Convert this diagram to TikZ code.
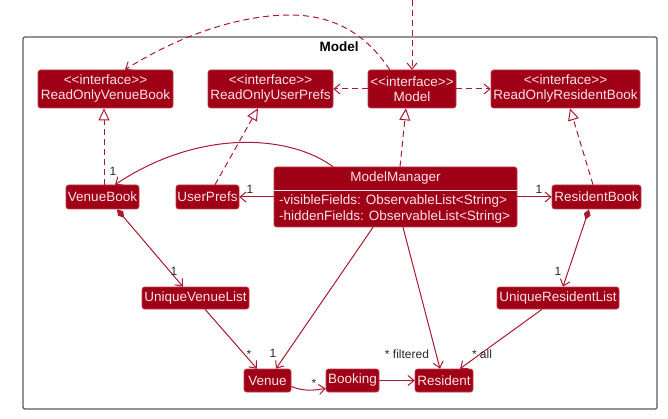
\documentclass[tikz,border=0pt]{standalone}
\usepackage{fontspec}
\setmainfont{Liberation Sans}[Ligatures=TeXOff]
\usetikzlibrary{arrows.meta,calc}
\definecolor{cf}{RGB}{160,0,22}
\definecolor{cb}{RGB}{190,60,80}
\definecolor{ct}{RGB}{250,228,232}
\definecolor{lc}{RGB}{170,25,50}
\definecolor{lt}{RGB}{40,40,40}
\definecolor{fc}{RGB}{90,90,90}
\begin{document}
\begin{tikzpicture}[x=1pt,y=-1pt,
  cls/.style={draw=cb, fill=cf, text=ct, rounded corners=2.5pt, inner sep=0pt,
    font=\fontsize{13.5}{15}\selectfont, align=center, line width=0.6pt},
  lbl/.style={text=lt, font=\fontsize{12}{14}\selectfont, inner sep=0pt},
  assoc/.style={draw=lc, line width=1pt, -{Straight Barb[length=6pt,width=10pt]}},
  dep/.style={assoc, dash pattern=on 6pt off 4pt},
  real/.style={draw=lc, line width=1pt, dash pattern=on 6pt off 4pt,
    -{Triangle[open,length=12pt,width=11pt,fill=white]}},
  comp/.style={draw=lc, line width=1pt,
    {Diamond[length=11pt,width=7pt]}-{Straight Barb[length=6pt,width=10pt]}},
]
\useasboundingbox (0,0) rectangle (668,419);
\fill[white] (0,0) rectangle (668,419);
% package frame
\draw[draw=fc, line width=1.2pt, rounded corners=2pt] (23,37) rectangle (657,409);
\node[font=\bfseries\fontsize{13.5}{15}\selectfont, inner sep=0pt] (title) at (339,47) {Model};

% interfaces
\node[cls, minimum width=135pt, minimum height=38pt] (rvb) at (105.5,89) {<<interface>>\\ReadOnlyVenueBook};
\node[cls, minimum width=125pt, minimum height=38pt] (rup) at (270.5,89) {<<interface>>\\ReadOnlyUserPrefs};
\node[cls, minimum width=88pt, minimum height=38pt] (model) at (412,89) {<<interface>>\\Model};
\node[cls, minimum width=149pt, minimum height=38pt] (rrb) at (565.5,89) {<<interface>>\\ReadOnlyResidentBook};

% classes
\node[cls, minimum width=73pt, minimum height=24pt] (vb) at (102.5,197) {VenueBook};
\node[cls, minimum width=63pt, minimum height=24pt] (up) at (207.5,197) {UserPrefs};
\node[cls, minimum width=243pt, minimum height=60pt] (mm) at (395.5,197) {};
\node[text=ct, inner sep=0pt, font=\fontsize{13.5}{15}\selectfont] (mmt) at (395.5,178.5) {ModelManager};
\draw[draw=ct, line width=0.8pt] (mm.west |- mmt.south) ++(0,5.5) coordinate (sepl) -- (mm.east |- sepl);
\node[text=ct, inner sep=0pt, anchor=west, align=left, font=\fontsize{13.5}{16}\selectfont] (mmf) at (279,209.5)
  {-visibleFields: ObservableList<String>\\-hiddenFields: ObservableList<String>};
\node[cls, minimum width=89pt, minimum height=24pt] (rb) at (596.5,197) {ResidentBook};
\node[cls, minimum width=107pt, minimum height=22pt] (uvl) at (195.5,298) {UniqueVenueList};
\node[cls, minimum width=122pt, minimum height=22pt] (url) at (558,298) {UniqueResidentList};
\node[cls, minimum width=47pt, minimum height=23pt] (venue) at (267.5,380.5) {Venue};
\node[cls, minimum width=53pt, minimum height=23pt] (bk) at (352.5,380.5) {Booking};
\node[cls, minimum width=58pt, minimum height=23pt] (res) at (444,380.5) {Resident};

% external dependency into Model
\coordinate (ext) at (412,0);
\draw[dep] (ext) -- (model.north);
% Model -> ReadOnlyVenueBook curved
\draw[dep] ($(model.north west)+(22,0)$) .. controls (370,40) and (340,15) .. (290,15)
  .. controls (240,15) and (180,35) .. ($(rvb.north)+(19.5,0)$);
\draw[dep] (model.west) -- (rup.east);
\draw[dep] (model.east) -- (rrb.west);

% realizations
\draw[real] ($(mm.north)+(4.5,0)$) -- ($(model.south)+(-6,0)$);
\draw[real] ($(vb.north)+(1.5,0)$) -- ($(rvb.south)+(-1.5,0)$);
\draw[real] ($(up.north)+(7.5,0)$) -- ($(rup.south)+(-12.5,0)$);
\draw[real] ($(rb.north)+(-3.5,0)$) -- ($(rrb.south)+(4.5,0)$);

% associations
\draw[assoc] ($(mm.north)+(-62.5,0)$) .. controls (290,135) and (200,128) .. ($(vb.north)+(12.5,0)$);
\node[lbl] at (113,171) {1};
\draw[assoc] (mm.west) -- (up.east);
\node[lbl] at (250,189) {1};
\draw[assoc] (mm.east) -- (rb.west);
\node[lbl] at (539,189) {1};

\draw[comp] ($(vb.south)+(14.5,0)$) -- ($(uvl.north)+(-12.5,0)$);
\node[lbl] at (174,271) {1};
\draw[comp] ($(rb.south)+(-7.5,0)$) -- ($(url.north)+(5,0)$);
\node[lbl] at (558,271) {1};

\draw[assoc] ($(uvl.south)+(9.5,0)$) -- ($(venue.north)+(-10.5,0)$);
\node[lbl] at (249,354) {*};
\draw[assoc] ($(mm.south)+(-22.5,0)$) -- ($(venue.north)+(8.5,0)$);
\node[lbl] at (273,353) {1};
\draw[assoc] ($(mm.south)+(7.5,0)$) -- ($(res.north)+(-4,0)$);
\node[lbl] at (407,354) {* filtered};
\draw[assoc] ($(url.south)+(-16,0)$) -- ($(res.north)+(16,0)$);
\node[lbl] at (482,354) {* all};

\draw[assoc] ($(venue.east)+(0,6)$) .. controls (305,392) and (315,390) .. ($(bk.west)+(0,8)$);
\node[lbl] at (314,383) {*};
\draw[assoc] (bk.east) -- (res.west);
\end{tikzpicture}
\end{document}
